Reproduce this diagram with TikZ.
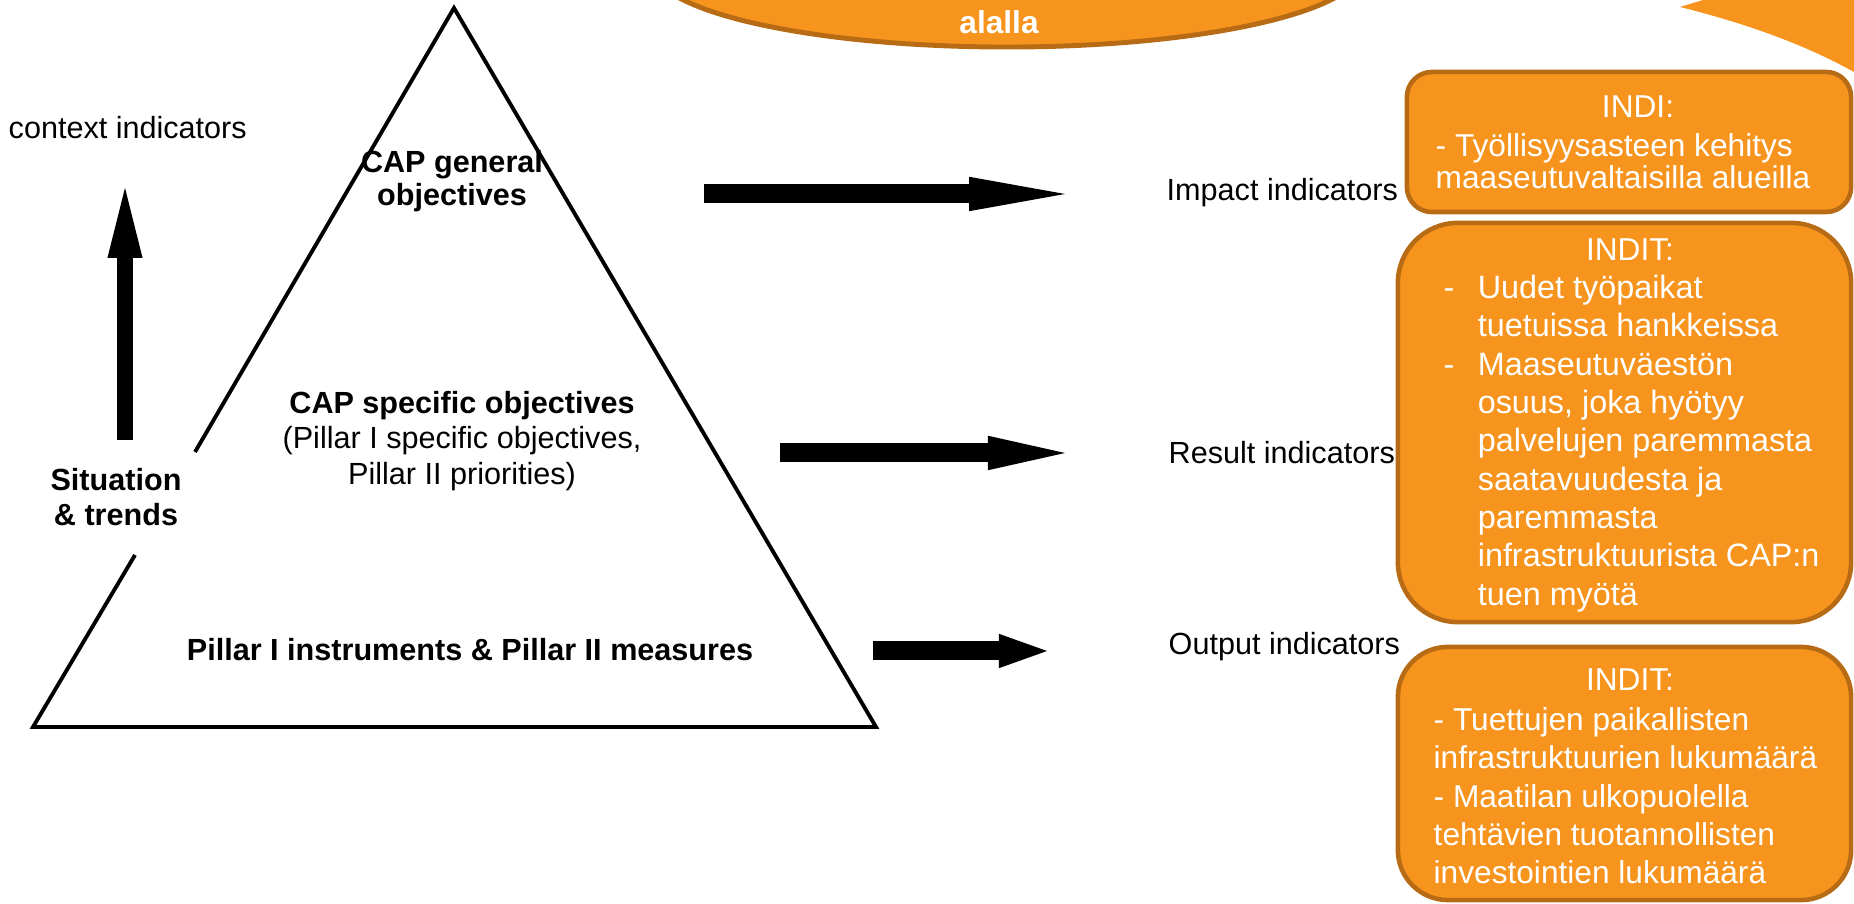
\documentclass[tikz,border=0pt]{standalone}
\usepackage{fontspec}
\setmainfont{Liberation Sans}
\usetikzlibrary{arrows.meta,shapes.geometric}
\definecolor{indiorange}{HTML}{F7941D}
\definecolor{indiedge}{HTML}{B76B14}
\def\lblfont{\fontsize{8.7}{10}\selectfont}
\def\boxfont{\fontsize{9}{10.9}\selectfont}
\def\dashitem{\makebox[9.7pt][l]{-}}
\def\hang{\hspace*{9.7pt}}
\tikzset{
  indibox/.style={draw=indiedge,fill=indiorange,line width=1.3pt,inner sep=0pt},
  indititle/.style={text=white,inner sep=0pt,font=\boxfont},
  inditext/.style={text=white,inner sep=0pt,align=left,anchor=west,font=\boxfont},
  lbl/.style={inner sep=0pt,font=\lblfont},
  fat/.style={line width=5.4pt,-{Triangle[width=9.8pt,length=#1,line width=0pt]}}
}

\begin{document}
\begin{tikzpicture}[x=0.01cm,y=-0.01cm]
\useasboundingbox (0,0) rectangle (1854,904);
\clip (0,0) rectangle (1854,904);
% orange shapes at the top
\node (topnote) [ellipse,draw=indiedge,fill=indiorange,line width=1.4pt,
  minimum width=7.1cm,minimum height=1.6cm,inner sep=0pt] at (1007,-33) {};
\node (topword) [text=white,inner sep=0pt,font=\fontsize{9}{10}\selectfont\bfseries] at (999,22) {alalla};
\fill [indiorange] (1703,0) -- (1680,7) .. controls (1740,22) and (1800,42) .. (1854,72) -- (1854,0) -- cycle;
% pyramid
\coordinate (apex) at (454,8);
\coordinate (gapt) at (195,452);
\coordinate (gapb) at (135,555);
\coordinate (bl) at (33,727);
\coordinate (br) at (876,727);
\draw [line width=1.1pt,line join=miter] (gapt) -- (apex) -- (br) -- (bl) -- (gapb);
\node (gen) [lbl,align=center,font=\fontsize{8.7}{9.2}\selectfont\bfseries] at (452,181) {CAP general\\objectives};
\node (spec) [lbl,align=center] at (462,441) {{\bfseries CAP specific objectives}\\(Pillar I specific objectives,\\Pillar II priorities)};
\node (instr) [lbl,font=\lblfont\bfseries] at (470,650) {Pillar I instruments \& Pillar II measures};
% context side
\node (ctx) [lbl,anchor=west] at (8,128) {context indicators};
\node (sit) [lbl,align=center,font=\lblfont\bfseries] at (116,497) {Situation\\\& trends};
\coordinate (up0) at (125,440);
\coordinate (up1) at (125,188);
\draw [line width=4.8pt,-{Triangle[width=10pt,length=19.9pt,line width=0pt]}] (up0) -- (up1);
% indicator levels
\node (impact) [lbl,anchor=west] at (1166,193) {Impact indicators};
\node (result) [lbl,anchor=west] at (1168,453) {Result indicators};
\node (output) [lbl,anchor=west] at (1168,647) {Output indicators};
\coordinate (a1s) at (704,194);
\coordinate (a1e) at (1065,194);
\coordinate (a2s) at (780,453);
\coordinate (a2e) at (1065,453);
\coordinate (a3s) at (873,651);
\coordinate (a3e) at (1047,651);
\draw [fat=27.3pt] (a1s) -- (a1e);
\draw [fat=21.9pt] (a2s) -- (a2e);
\draw [fat=13.7pt] (a3s) -- (a3e);
% boxes
\node (box1) [indibox,rounded corners=0.25cm,minimum width=4.44cm,minimum height=1.4cm] at (1629,142) {};
\node (box2) [indibox,rounded corners=0.6cm,minimum width=4.53cm,minimum height=3.99cm] at (1624.5,422.5) {};
\node (box3) [indibox,rounded corners=0.5cm,minimum width=4.53cm,minimum height=2.53cm] at (1624.5,773.5) {};
\node (t1) [indititle] at (1638,107) {INDI:};
\node (l1) [inditext,font=\fontsize{9}{9.2}\selectfont] at (1435,161) {- Työllisyysasteen kehitys\\maaseutuvaltaisilla alueilla};
\node (t2) [indititle] at (1630,250) {INDIT:};
\node (l2) [inditext,font=\fontsize{9.2}{10.9}\selectfont] at (1443,443.5) {\dashitem Uudet työpaikat\\
\hang tuetuissa hankkeissa\\
\dashitem Maaseutuväestön\\
\hang osuus, joka hyötyy\\
\hang palvelujen paremmasta\\
\hang saatavuudesta ja\\
\hang paremmasta\\
\hang infrastruktuurista CAP:n\\
\hang tuen myötä};
\node (t3) [indititle] at (1630,680) {INDIT:};
\node (l3) [inditext] at (1433,796) {- Tuettujen paikallisten\\infrastruktuurien lukumäärä\\- Maatilan ulkopuolella\\tehtävien tuotannollisten\\investointien lukumäärä};
\end{tikzpicture}
\end{document}
